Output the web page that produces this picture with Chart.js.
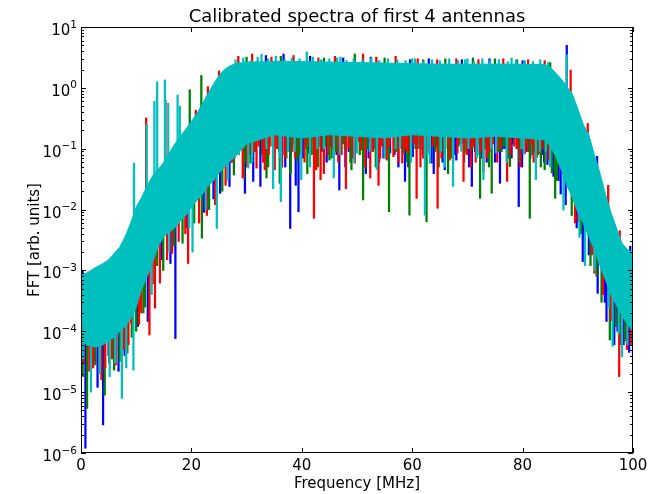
<!DOCTYPE html>
<html>
<head>
<meta charset="utf-8">
<title>Calibrated spectra of first 4 antennas</title>
<script src="https://cdn.jsdelivr.net/npm/chart.js@4.4.1/dist/chart.umd.min.js"></script>
<style>
  html, body { margin: 0; padding: 0; background: #fff; }
</style>
</head>
<body>
<canvas id="chart" width="650" height="494"></canvas>
<script>
// ── axis ticks ───────────────────────────────────────────────────────────
const xTicks = [0, 20, 40, 60, 80, 100];
const yTickExp = [-6, -5, -4, -3, -2, -1, 0, 1];
const yMinorSteps = [2, 3, 4, 5, 6, 7, 8, 9];

// ── solid cyan band (antenna 4) ──────────────────────────────────────────
const envFreq = [0, 1, 2.5, 4, 5, 6, 7, 8, 9, 10,
  11, 12, 13, 14, 15, 16, 17, 18, 19, 20, 21, 22, 23, 24, 25, 26, 27,
  28, 30,
  35, 40, 45, 50, 55, 60, 65, 70, 75, 80,
  84, 85,
  86, 87, 88, 89, 90, 91, 92, 93, 94, 95, 96, 97, 98, 99, 100];
const envUpper = [8.5e-4, 9e-4, 1.1e-3, 1.3e-3, 1.5e-3, 1.9e-3, 2.4e-3, 3.6e-3, 6e-3, 1.1e-2,
  1.6e-2, 2.5e-2, 3.6e-2, 4.6e-2, 6e-2, 8.5e-2, 0.12, 0.16, 0.21, 0.28, 0.38, 0.55, 0.8, 1.15, 1.6, 2.0, 2.3,
  2.5, 2.65,
  2.7, 2.7, 2.65, 2.6, 2.55, 2.5, 2.45, 2.45, 2.45, 2.45,
  2.4, 2.2,
  1.75, 1.4, 1.05, 0.8, 0.45, 0.25, 0.17, 0.08, 0.04, 0.018, 9e-3, 5e-3, 2.8e-3, 2.2e-3, 1.9e-3];
const envLower = [7e-5, 6e-5, 5.5e-5, 6e-5, 7e-5, 8e-5, 1e-4, 1.2e-4, 1.6e-4, 2.5e-4,
  5e-4, 8e-4, 1.4e-3, 2.5e-3, 3.6e-3, 4.3e-3, 5e-3, 6.5e-3, 8e-3, 0.011, 0.014, 0.018, 0.024, 0.03, 0.04, 0.05, 0.062,
  0.075, 0.12,
  0.17, 0.15, 0.17, 0.16, 0.15, 0.17, 0.16, 0.15, 0.16, 0.15,
  0.14, 0.11,
  0.075, 0.045, 0.025, 0.016, 9e-3, 6e-3, 3.6e-3, 2.2e-3, 1.2e-3, 7e-4, 4e-4, 2.7e-4, 1.8e-4, 1.3e-4, 1.0e-4];

// ── single spikes out of the band: frequency, lower end, upper end ───────
const blueF = [0.3, 0.8, 3.0, 4.0, 5.0, 6.8, 12.1, 16.2, 16.6, 17.1, 25.2, 26.9, 28.5, 29.7, 31.2, 32.5,
  33.5, 34.0, 36.5, 36.7, 37.9, 38.9, 39.4, 41.3, 41.5, 43.0, 44.5, 46.8, 47.5, 48.5, 49.5, 51.6,
  52.5, 53.0, 54.8, 56.0, 57.5, 58.7, 59.6, 60.1, 61.5, 63.0, 63.5, 63.9, 65.9, 67.0, 68.0, 69.0,
  70.8, 71.8, 73.5, 74.0, 75.9, 76.8, 78.0, 79.3, 80.0, 81.0, 82.5, 83.5, 84.5, 86.5, 88.0,
  90.9, 91.0, 93.5, 93.6, 95.2, 96.6, 99.3, 99.5, 100,
  10.3, 14.6, 19.0, 22.3, 24.0, 89.8, 92.0, 94.9, 97.2, 98.3, 2.3, 7.9];
const blueLo = [5e-4, 1.2e-6, 1.2e-5, 2.9e-6, 4e-5, 2.2e-5, 1.45e-4, 1.3e-3, 2.8e-3, 7.6e-5, 0.0185, 0.024, 0.09, 0.0185, 0.029, 0.024,
  2.0, 0.1, 0.08, 2.0, 0.0049, 0.025, 0.0092, 0.084, 2.0, 0.11, 0.06, 0.021, 2.0, 0.09, 0.084, 0.039,
  2.0, 0.1, 0.07, 0.085, 0.05, 0.029, 2.0, 0.074, 0.1, 2.0, 0.058, 0.039, 0.045, 0.09, 0.065, 2.0,
  0.024, 0.08, 0.06, 2.0, 0.027, 0.1, 0.07, 0.0112, 2.0, 0.09, 0.074, 0.08, 0.055, 0.03, 0.5,
  1.4e-3, 3.4e-3, 0.03, 4.2e-4, 1.45e-4, 6e-5, 4.5e-5, 1.5e-3, 3.4e-5,
  1.2e-4, 1.5e-3, 5e-3, 9e-3, 0.015, 5e-3, 1.8e-3, 3e-4, 1e-4, 6e-5, 3e-5, 4e-5];
const blueHi = [1.0e-3, 3e-4, 3e-4, 3e-4, 3e-4, 4e-4, 3e-3, 0.02, 0.02, 0.02, 0.3, 0.5, 0.6, 0.6, 0.6, 0.6,
  3.4, 0.6, 0.6, 3.6, 0.6, 0.6, 0.6, 0.6, 3.3, 0.6, 0.6, 0.6, 3.1, 0.6, 0.6, 0.6,
  3.2, 0.6, 0.6, 0.6, 0.6, 0.6, 2.9, 0.6, 0.6, 3.0, 0.6, 0.6, 0.6, 0.6, 0.6, 2.9,
  0.6, 0.6, 0.6, 3.0, 0.6, 0.6, 0.6, 0.6, 2.8, 0.6, 0.6, 0.6, 0.6, 0.3, 5.0,
  0.05, 0.05, 0.075, 0.01, 3e-3, 1.5e-3, 5e-4, 2.5e-3, 5e-4,
  1.5e-3, 0.01, 0.03, 0.08, 0.15, 0.08, 0.02, 3e-3, 1e-3, 8e-4, 3e-4, 5e-4];

const redF = [0.5, 1.5, 2.2, 3.7, 5.6, 6.3, 7.8, 9.1, 10.5, 11.8, 12.4, 13.4, 14.3, 15.3, 16.5, 19.4,
  20.8, 22.8, 23.0, 25.0, 27.4, 28.0, 28.5, 29.3, 30.5, 31.0, 31.8, 33.3, 34.2, 34.5, 35.1, 37.0,
  38.3, 38.5, 40.5, 42.2, 43.0, 43.4, 44.0, 45.5, 46.0, 47.2, 48.0, 49.6, 50.7, 51.1, 52.4, 53.5,
  53.9, 54.5, 55.4, 56.6, 57.0, 58.2, 59.0, 60.8, 61.0, 62.0, 63.3, 64.5, 64.6, 66.8, 68.0, 68.2,
  69.3, 71.5, 72.0, 72.9, 74.0, 76.5, 77.2, 79.0, 80.4, 81.0, 82.0, 83.0, 84.0, 84.7, 88.7,
  90.1, 91.8, 91.9, 93.0, 95.5, 97.5, 97.6, 98.9,
  10.9, 13.0, 15.6, 17.7, 18.9, 21.4, 24.3, 26.2, 89.5, 92.6, 94.6, 96.0, 99.6, 4.4, 8.6];
const redLo = [3e-5, 2.2e-5, 2.5e-5, 1.6e-5, 3.5e-5, 2.8e-5, 5e-5, 1.35e-4, 1.3e-4, 0.015, 8.7e-5, 2.4e-4, 6.2e-4, 0.05, 1.9e-3, 1.3e-3,
  0.3, 8e-3, 0.7, 1.5, 0.06, 0.1, 2.0, 0.033, 0.085, 2.0, 0.048, 0.045, 0.11, 2.0, 0.045, 0.07,
  0.09, 2.0, 0.06, 0.0072, 2.0, 0.031, 0.039, 0.1, 2.0, 0.08, 0.022, 0.058, 0.095, 2.0, 0.033, 2.0,
  0.025, 0.11, 0.065, 0.074, 2.0, 0.058, 0.09, 0.0153, 2.0, 0.07, 0.1, 2.0, 0.0105, 0.065, 2.0, 0.085,
  0.029, 0.06, 2.0, 0.042, 0.09, 2.0, 0.029, 0.1, 0.084, 2.0, 0.06, 0.085, 2.0, 0.065, 0.8,
  0.0063, 0.05, 3.8e-3, 9e-4, 0.01, 1.8e-5, 3e-3, 5e-5,
  2e-4, 6e-4, 1.5e-3, 3e-3, 4e-3, 6e-3, 0.012, 0.025, 6e-3, 1.8e-3, 4e-4, 1.5e-4, 6e-5, 2.5e-5, 6e-5];
const redHi = [3e-4, 3e-4, 3e-4, 3e-4, 3e-4, 3e-4, 5e-4, 1e-3, 2e-3, 0.32, 3e-3, 5e-3, 0.01, 0.63, 0.02, 0.05,
  0.43, 0.1, 1.05, 1.9, 0.6, 0.6, 3.3, 0.6, 0.6, 3.6, 0.6, 0.6, 0.6, 3.2, 0.6, 0.6,
  0.6, 3.4, 0.6, 0.6, 3.1, 0.6, 0.6, 0.6, 3.3, 0.6, 0.6, 0.6, 0.6, 3.6, 0.6, 3.2,
  0.6, 0.6, 0.6, 0.6, 3.3, 0.6, 0.6, 0.6, 3.0, 0.6, 0.6, 2.9, 0.6, 0.6, 3.0, 0.6,
  0.6, 0.6, 2.9, 0.6, 0.6, 3.0, 0.6, 0.6, 0.6, 2.9, 0.6, 0.6, 2.8, 0.6, 1.96,
  0.05, 0.26, 0.03, 0.02, 0.025, 1e-3, 4.5e-3, 8e-4,
  1.5e-3, 5e-3, 0.01, 0.02, 0.03, 0.06, 0.15, 0.3, 0.1, 0.02, 5e-3, 2e-3, 5e-4, 3e-4, 8e-4];

const greenF = [0.3, 1.1, 2.6, 4.3, 6.0, 7.0, 8.4, 10.0, 11.3, 14.9, 19.7, 21.8, 21.9, 27.7, 29.5, 30.0,
  30.7, 31.5, 33.6, 35.5, 36.0, 36.2, 38.0, 39.5, 41.0, 43.8, 44.0, 45.0, 47.8, 49.0, 49.6, 51.1,
  52.8, 55.0, 55.8, 57.2, 58.5, 59.5, 61.0, 62.0, 62.6, 64.2, 66.0, 66.5, 69.8, 71.0, 72.3, 73.2,
  74.4, 75.0, 76.2, 77.7, 79.0, 80.0, 81.3, 82.8, 84.0, 85.0, 85.9, 87.7, 92.3, 94.3, 95.8, 97.8,
  11.6, 13.8, 16.9, 18.4, 20.5, 23.2, 25.6, 88.9, 90.6, 93.4, 96.9, 98.6, 1.9, 5.1, 9.2];
const greenLo = [1.8e-5, 5.4e-6, 2.8e-5, 8.9e-6, 2.3e-5, 3.2e-5, 4.4e-5, 1e-4, 2e-4, 1e-3, 0.2, 0.35, 3.4e-3, 0.037, 0.033, 2.0,
  0.058, 0.09, 0.033, 0.1, 0.027, 2.0, 0.039, 0.08, 0.039, 0.095, 2.0, 0.065, 0.1, 0.045, 2.0, 0.0144,
  0.09, 2.0, 0.0092, 0.09, 0.085, 0.0081, 0.1, 2.0, 0.0063, 0.09, 2.0, 0.039, 0.085, 2.0, 0.0153, 0.1,
  0.0185, 2.0, 0.09, 0.051, 2.0, 0.1, 0.0072, 0.08, 0.045, 1.5, 0.0153, 0.035, 1.2e-3, 3e-4, 7.2e-5, 6e-5,
  2.5e-4, 1.2e-3, 2.5e-3, 2.8e-3, 6e-3, 0.01, 0.02, 8e-3, 4e-3, 8e-4, 1.2e-4, 7e-5, 2.5e-5, 3e-5, 8e-5];
const greenHi = [3e-4, 3e-4, 3e-4, 3e-4, 3e-4, 4e-4, 5e-4, 1e-3, 1.5e-3, 0.01, 0.93, 1.6, 0.05, 0.6, 0.6, 3.2,
  0.6, 0.6, 0.6, 0.6, 0.6, 3.3, 0.6, 0.6, 0.6, 0.6, 3.1, 0.6, 0.6, 0.6, 3.6, 0.6,
  0.6, 3.1, 0.6, 0.6, 0.6, 0.6, 0.6, 2.9, 0.6, 0.6, 3.0, 0.6, 0.6, 3.1, 0.6, 0.6,
  0.6, 3.0, 0.6, 0.6, 2.9, 0.6, 0.6, 0.6, 0.6, 2.6, 0.4, 0.3, 0.03, 5e-3, 2e-3, 1e-3,
  3e-3, 8e-3, 0.02, 0.03, 0.05, 0.1, 0.25, 0.1, 0.05, 0.01, 1.5e-3, 6e-4, 3e-4, 3e-4, 1e-3];

const cyanF = [1.8, 3.4, 5.2, 7.4, 9.5, 9.6, 11.9, 13.3, 13.8, 15.2, 15.8, 17.5, 17.9, 20.2, 24.6, 29.0,
  30.3, 32.7, 34.8, 36.2, 37.5, 39.9, 40.9, 42.8, 45.8, 47.0, 50.0, 53.6, 57.8, 60.0, 62.3, 63.2,
  65.2, 67.4, 70.0, 70.2, 72.9, 75.2, 78.0, 79.8, 82.4, 84.2, 87.4, 88.0, 91.3, 96.3, 98.0,
  12.8, 16.0, 19.6, 22.6, 26.6, 90.3, 93.0, 95.6, 97.4, 99.0, 0.4, 6.2, 8.2];
const cyanLo = [1.0e-5, 2.0e-5, 1.8e-5, 7.9e-6, 2.3e-5, 5e-3, 0.015, 0.03, 0.04, 0.05, 0.06, 0.1, 0.1, 2.0e-3, 4.9e-3, 0.1,
  0.048, 1.0, 0.022, 0.0135, 0.09, 0.031, 1.0, 0.1, 0.033, 1.0, 0.085, 0.045, 0.1, 1.0, 0.0081, 0.058,
  0.09, 0.024, 1.0, 0.1, 0.031, 0.085, 1.0, 0.1, 0.031, 0.09, 0.0098, 0.5, 1.2e-3, 5.7e-5, 3.8e-5,
  4e-4, 2e-3, 5e-3, 0.01, 0.03, 3.5e-3, 1e-3, 2.5e-4, 9e-5, 6e-5, 3.5e-5, 3e-5, 2.5e-5];
const cyanHi = [3e-4, 3e-4, 3e-4, 4e-4, 1e-3, 0.058, 0.25, 0.6, 1.26, 1.35, 0.56, 0.76, 0.5, 0.05, 0.1, 0.6,
  0.6, 3.6, 0.6, 0.6, 0.6, 0.6, 3.9, 0.6, 0.6, 3.2, 0.6, 0.6, 0.6, 3.0, 0.6, 0.6,
  0.6, 0.6, 3.0, 0.6, 0.6, 0.6, 3.1, 0.6, 0.6, 0.6, 0.3, 3.5, 0.03, 2e-3, 1e-3,
  4e-3, 0.015, 0.04, 0.08, 0.3, 0.05, 0.01, 3e-3, 1e-3, 5e-4, 3e-4, 3e-4, 6e-4];

// ── dense short spikes under the plateau (they all reach up into the band) ─
const forestTop = 0.6;
const redForestF = [27.8, 28.9, 30.1, 31.3, 32.2, 33.0, 34.0, 35.6, 36.4, 37.5,
  38.8, 39.8, 41.2, 42.6, 44.7, 45.9, 46.6, 48.5, 49.2, 50.2,
  51.5, 52.9, 54.2, 55.9, 57.5, 58.7, 59.6, 60.3, 61.5, 62.6,
  63.8, 65.3, 66.0, 67.4, 68.7, 69.9, 70.6, 71.1, 72.4, 73.5,
  74.6, 75.4, 76.0, 77.8, 78.5, 79.6, 80.9, 81.6, 82.5, 83.6];
const redForestLo = [0.07, 0.12, 0.05, 0.09, 0.11, 0.06, 0.08, 0.1, 0.05, 0.12,
  0.07, 0.09, 0.11, 0.045, 0.08, 0.12, 0.06, 0.1, 0.07, 0.13,
  0.05, 0.09, 0.07, 0.11, 0.06, 0.1, 0.08, 0.12, 0.05, 0.09,
  0.11, 0.07, 0.1, 0.06, 0.12, 0.08, 0.05, 0.11, 0.09, 0.07,
  0.12, 0.06, 0.1, 0.08, 0.11, 0.05, 0.09, 0.12, 0.07, 0.1];
const greenForestF = [28.2, 29.9, 30.9, 32.8, 33.9, 34.7, 35.9, 37.2, 38.5, 39.2,
  40.7, 41.8, 42.9, 44.3, 45.4, 46.2, 47.5, 48.8, 50.5, 51.8,
  53.4, 54.6, 55.2, 56.9, 57.9, 59.1, 60.6, 61.9, 63.0, 64.8,
  65.7, 67.1, 68.4, 69.4, 70.9, 71.8, 72.8, 73.9, 75.7, 76.6,
  77.4, 78.9, 79.4, 80.6, 81.8, 82.2, 83.3, 84.5, 85.3, 86.2];
const greenForestLo = [0.1, 0.06, 0.12, 0.08, 0.05, 0.11, 0.09, 0.07, 0.12, 0.06,
  0.1, 0.08, 0.05, 0.11, 0.07, 0.09, 0.12, 0.06, 0.08, 0.1,
  0.05, 0.12, 0.07, 0.09, 0.11, 0.06, 0.1, 0.08, 0.12, 0.05,
  0.09, 0.07, 0.11, 0.06, 0.1, 0.12, 0.08, 0.05, 0.09, 0.11,
  0.07, 0.1, 0.06, 0.12, 0.08, 0.09, 0.05, 0.1, 0.04, 0.03];
const blueForestF = [27.2, 29.1, 30.6, 31.7, 33.2, 35.0, 35.8, 37.0, 38.1, 40.2,
  41.0, 42.3, 43.6, 45.1, 46.3, 47.9, 49.8, 50.9, 52.1, 53.7,
  54.0, 55.6, 56.8, 58.0, 59.3, 60.9, 62.2, 63.0, 64.4, 65.5,
  66.6, 67.8, 69.0, 70.3, 71.4, 72.6, 73.8, 75.0, 76.4, 77.5,
  78.2, 79.9, 80.7, 81.4, 82.9, 83.9, 84.8, 85.6, 86.9, 87.8];
const blueForestLo = [0.06, 0.1, 0.08, 0.12, 0.07, 0.09, 0.11, 0.05, 0.1, 0.07,
  0.12, 0.06, 0.09, 0.11, 0.08, 0.05, 0.1, 0.12, 0.07, 0.09,
  0.06, 0.11, 0.08, 0.1, 0.05, 0.12, 0.07, 0.09, 0.11, 0.06,
  0.1, 0.08, 0.12, 0.05, 0.09, 0.07, 0.11, 0.06, 0.1, 0.08,
  0.12, 0.05, 0.09, 0.07, 0.1, 0.06, 0.08, 0.035, 0.018, 0.012];
const cyanForestF = [28.6, 31.0, 33.6, 36.0, 38.7, 41.5, 44.0, 46.9, 49.5, 52.3,
  55.0, 57.0, 59.8, 62.8, 65.9, 68.9, 71.7, 74.3, 77.1, 80.2, 83.1, 85.0];
const cyanForestLo = [0.08, 0.06, 0.1, 0.07, 0.09, 0.05, 0.1, 0.08, 0.06, 0.09,
  0.07, 0.1, 0.06, 0.08, 0.05, 0.09, 0.07, 0.1, 0.06, 0.08, 0.09, 0.05];

// ── ragged cyan crest on top of the plateau ───────────────────────────────
const crestBase = 1.0;
const cyanCrestF = [28.0, 29.4, 30.8, 32.0, 33.9, 35.3, 36.9, 38.2, 39.6, 42.0,
  43.5, 45.0, 46.4, 48.1, 49.4, 51.0, 52.6, 54.0, 55.6, 57.3,
  58.8, 60.5, 62.0, 63.6, 65.0, 66.7, 68.3, 69.6, 71.2, 72.7,
  74.1, 75.7, 77.3, 78.8, 80.4, 81.9, 83.2, 84.6];
const cyanCrestHi = [2.9, 3.1, 2.8, 3.2, 3.0, 3.3, 2.9, 3.1, 3.0, 3.2,
  2.9, 3.0, 3.1, 2.8, 3.0, 2.9, 3.1, 2.8, 3.0, 2.9,
  2.8, 3.0, 2.7, 2.9, 2.8, 3.0, 2.8, 2.9, 2.7, 3.0,
  2.8, 2.9, 2.7, 2.9, 2.8, 2.7, 2.9, 2.6];

const CYAN = "#00bfbf", RED = "#ff0000", GREEN = "#008000", BLUE = "#0000ff";
const FONT = '"DejaVu Sans", sans-serif';

function spikes(f, lo, hi) {
  return f.map((x, i) => ({ x: x, y: [lo[i], Array.isArray(hi) ? hi[i] : hi] }));
}

function spikeSet(label, color, f, lo, hi, order) {
  return {
    type: "bar", label: label, data: spikes(f, lo, hi), order: order,
    backgroundColor: color, borderWidth: 0, barThickness: 1.6, grouped: false,
  };
}

// matplotlib-like frame: box, inward ticks, labels, titles
const mplFrame = {
  id: "mplFrame",
  afterDraw(chart) {
    const { ctx, chartArea: a } = chart;
    const xs = chart.scales.x, ys = chart.scales.y;
    ctx.save();
    ctx.strokeStyle = "#000";
    ctx.lineWidth = 1;
    ctx.strokeRect(a.left + 0.5, a.top + 0.5, a.right - a.left - 1, a.bottom - a.top - 1);

    ctx.beginPath();
    xTicks.forEach((v) => {
      const px = Math.round(xs.getPixelForValue(v)) + 0.5;
      ctx.moveTo(px, a.bottom); ctx.lineTo(px, a.bottom - 5);
      ctx.moveTo(px, a.top); ctx.lineTo(px, a.top + 5);
    });
    yTickExp.forEach((e) => {
      const py = Math.round(ys.getPixelForValue(Math.pow(10, e))) + 0.5;
      ctx.moveTo(a.left, py); ctx.lineTo(a.left + 5, py);
      ctx.moveTo(a.right, py); ctx.lineTo(a.right - 5, py);
      if (e === yTickExp[yTickExp.length - 1]) return;
      yMinorSteps.forEach((m) => {
        const pm = Math.round(ys.getPixelForValue(m * Math.pow(10, e))) + 0.5;
        ctx.moveTo(a.left, pm); ctx.lineTo(a.left + 3, pm);
        ctx.moveTo(a.right, pm); ctx.lineTo(a.right - 3, pm);
      });
    });
    ctx.stroke();

    ctx.fillStyle = "#000";
    ctx.textBaseline = "alphabetic";
    ctx.font = "15px " + FONT;
    ctx.textAlign = "center";
    xTicks.forEach((v) => ctx.fillText(String(v), xs.getPixelForValue(v), a.bottom + 16.5));

    yTickExp.forEach((e) => {
      const py = ys.getPixelForValue(Math.pow(10, e));
      const exp = e < 0 ? "\u2212" + (-e) : String(e);
      ctx.font = "10.5px " + FONT;
      const ew = ctx.measureText(exp).width;
      const xr = a.left - 4 - ew;
      ctx.textAlign = "left";
      ctx.fillText(exp, xr, py + 0.5);
      ctx.font = "15px " + FONT;
      ctx.textAlign = "right";
      ctx.fillText("10", xr, py + 8);
    });

    ctx.textAlign = "center";
    ctx.font = "18px " + FONT;
    ctx.fillText("Calibrated spectra of first 4 antennas", (a.left + a.right) / 2, 21.5);
    ctx.font = "15px " + FONT;
    ctx.fillText("Frequency [MHz]", (a.left + a.right) / 2, 488);
    ctx.translate(39, (a.top + a.bottom) / 2);
    ctx.rotate(-Math.PI / 2);
    ctx.fillText("FFT [arb. units]", 0, 0);
    ctx.restore();
  },
};

new Chart(document.getElementById("chart"), {
  type: "line",
  data: {
    datasets: [
      {
        label: "band top", data: envFreq.map((f, i) => ({ x: f, y: envUpper[i] })),
        borderColor: CYAN, backgroundColor: CYAN, borderWidth: 1, fill: "+1", order: 1,
      },
      {
        label: "band bottom", data: envFreq.map((f, i) => ({ x: f, y: envLower[i] })),
        borderColor: CYAN, backgroundColor: CYAN, borderWidth: 1, fill: false, order: 1,
      },
      spikeSet("antenna 4", CYAN, cyanF, cyanLo, cyanHi, 0),
      spikeSet("antenna 4 forest", CYAN, cyanForestF, cyanForestLo, forestTop, 0),
      spikeSet("antenna 4 crest", CYAN, cyanCrestF, cyanCrestF.map(() => crestBase), cyanCrestHi, 0),
      spikeSet("antenna 3", RED, redF, redLo, redHi, 2),
      spikeSet("antenna 3 forest", RED, redForestF, redForestLo, forestTop, 2),
      spikeSet("antenna 2", GREEN, greenF, greenLo, greenHi, 3),
      spikeSet("antenna 2 forest", GREEN, greenForestF, greenForestLo, forestTop, 3),
      spikeSet("antenna 1", BLUE, blueF, blueLo, blueHi, 4),
      spikeSet("antenna 1 forest", BLUE, blueForestF, blueForestLo, forestTop, 4),
    ],
  },
  options: {
    responsive: false,
    animation: false,
    devicePixelRatio: 1,
    events: [],
    layout: { padding: { left: 81, right: 17, top: 27, bottom: 41 } },
    scales: {
      x: { type: "linear", min: 0, max: 100, display: false, offset: false },
      y: { type: "logarithmic", min: 1e-6, max: 10, display: false },
    },
    plugins: { legend: { display: false }, tooltip: { enabled: false }, title: { display: false } },
    elements: { point: { radius: 0 }, line: { tension: 0 } },
  },
  plugins: [mplFrame],
});
</script>
</body>
</html>
